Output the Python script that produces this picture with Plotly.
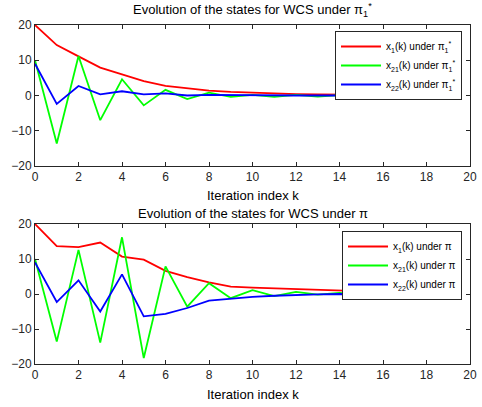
import plotly.graph_objects as go

k = list(range(20))

# Top panel: under pi_1^*
top_x1 = [20, 14.3, 11.1, 7.9, 6.0, 4.1, 2.7, 2.0, 1.4, 1.0, 0.75, 0.55, 0.4, 0.3, 0.22, 0.15, 0.1, 0.07, 0.04, 0.02]
top_x21 = [10, -13.6, 11.2, -7.0, 4.6, -2.8, 1.6, -1.0, 0.8, -0.4, 0.2, -0.4, 0.2, -0.3, 0.1, -0.3, 0.1, -0.1, 0.2, 0.0]
top_x22 = [9.0, -2.4, 2.7, 0.3, 1.2, 0.3, 0.6, 0.0, 0.2, 0.1, 0.0, 0.1, 0.0, 0.0, 0.0, 0.0, 0.0, -0.3, 0.0, 0.0]

# Bottom panel: under pi
bot_x1 = [20, 13.7, 13.4, 14.7, 10.7, 9.8, 6.6, 4.8, 3.3, 2.1, 1.8, 1.6, 1.3, 1.1, 0.9, 0.6, 0.4, 0.3, 0.2, 0.1]
bot_x21 = [10, -13.6, 12.6, -13.9, 16.2, -18.3, 7.9, -3.6, 3.1, -1.2, 1.1, -0.6, 0.6, -0.2, 0.3, -0.1, 0.2, -0.1, 0.1, 0.0]
bot_x22 = [9.0, -2.3, 3.9, -5.0, 5.6, -6.4, -5.7, -4.0, -1.9, -1.3, -0.8, -0.5, -0.2, -0.1, 0.0, -0.1, 0.0, -0.3, 0.0, 0.0]

xticks = [0, 2, 4, 6, 8, 10, 12, 14, 16, 18, 20]
yticks = [-20, -10, 0, 10, 20]

W, H = 482, 407
FONT = "Liberation Sans, Arial, sans-serif"
AX = "#262626"

fig = go.Figure()
lw = 1.8
p1 = "π<sub>1</sub><sup>*</sup>"
series = [
    (top_x1, "#FF0000", "x<sub>1</sub>(k) under " + p1, "x", "y", "legend"),
    (top_x21, "#00FF00", "x<sub>21</sub>(k) under " + p1, "x", "y", "legend"),
    (top_x22, "#0000FF", "x<sub>22</sub>(k) under " + p1, "x", "y", "legend"),
    (bot_x1, "#FF0000", "x<sub>1</sub>(k) under π", "x2", "y2", "legend2"),
    (bot_x21, "#00FF00", "x<sub>21</sub>(k) under π", "x2", "y2", "legend2"),
    (bot_x22, "#0000FF", "x<sub>22</sub>(k) under π", "x2", "y2", "legend2"),
]
for ys, c, name, xa, ya, lg in series:
    fig.add_trace(go.Scatter(x=k, y=ys, mode="lines", line=dict(color=c, width=lw),
                             name=name, xaxis=xa, yaxis=ya, legend=lg))

xd = [35 / W, 470 / W]
yd1 = [1 - 166 / H, 1 - 25 / H]
yd2 = [1 - 364 / H, 1 - 224 / H]

axcommon = dict(showgrid=False, zeroline=False, showline=True, linecolor=AX, linewidth=1,
                mirror="ticks", ticks="inside", ticklen=4, tickcolor=AX, automargin=False,
                tickfont=dict(family=FONT, size=12, color=AX))

legcommon = dict(xanchor="right", yanchor="top",
                 bgcolor="white", bordercolor="#262626", borderwidth=1,
                 font=dict(family=FONT, size=10, color="black"), tracegroupgap=0,
                 itemwidth=40)

fig.update_layout(
    width=W, height=H, margin=dict(l=0, r=0, t=0, b=0, pad=0),
    paper_bgcolor="white", plot_bgcolor="white",
    font=dict(family=FONT, size=11, color="black"),
    xaxis=dict(domain=xd, anchor="y", range=[0, 20], tickvals=xticks, **axcommon),
    yaxis=dict(domain=yd1, anchor="x", range=[-20, 20], tickvals=yticks, **axcommon),
    xaxis2=dict(domain=xd, anchor="y2", range=[0, 20], tickvals=xticks, **axcommon),
    yaxis2=dict(domain=yd2, anchor="x2", range=[-20, 20], tickvals=yticks, **axcommon),
    legend=dict(x=462 / W, y=1 - 31 / H, **legcommon),
    legend2=dict(x=462 / W, y=1 - 231 / H, **legcommon),
    showlegend=True,
)

ann = [
    ("Evolution of the states for WCS under π<sub>1</sub><sup>*</sup>", 252.5, 10),
    ("Iteration index k", 252.5, 195),
    ("Evolution of the states for WCS under π", 252.5, 213),
    ("Iteration index k", 252.5, 394),
]
for text, x, y in ann:
    fig.add_annotation(text=text, x=x / W, y=1 - y / H, xref="paper", yref="paper",
                       showarrow=False, xanchor="center", yanchor="middle",
                       font=dict(family=FONT, size=13, color="black"))

fig.write_html("out.html", config={"displayModeBar": False},
               post_script="document.body.style.margin='0';document.body.style.overflow='hidden';")
